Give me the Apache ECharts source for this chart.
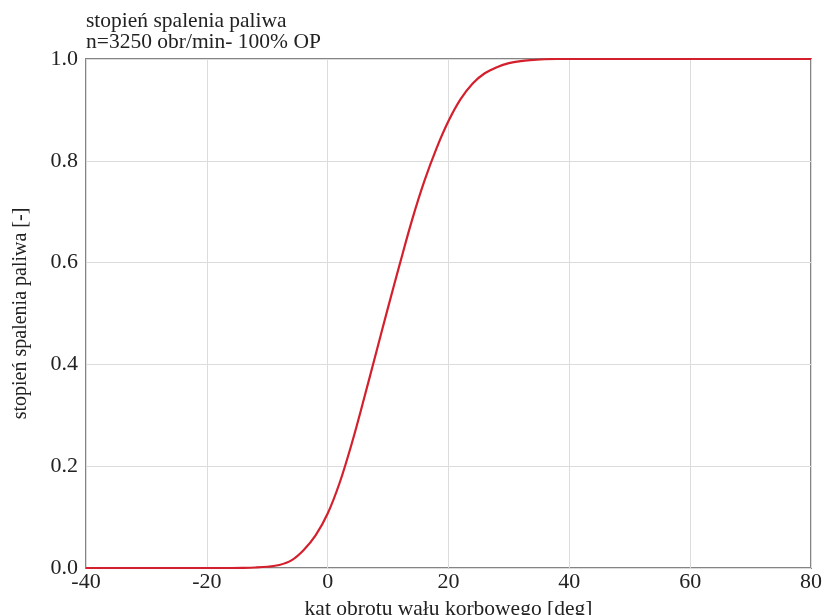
<!DOCTYPE html>
<html>
<head>
<meta charset="utf-8">
<script src="https://cdn.jsdelivr.net/npm/echarts@6/dist/echarts.min.js"></script>
<style>
  html, body { margin: 0; padding: 0; background: #fff; }
  #chart { width: 826px; height: 615px; }
</style>
</head>
<body>
<div id="chart"></div>
<script>
// Crank angle [deg] and burned fuel fraction [-]
const crankAngle = [-40, -30, -20, -16, -14, -12, -10, -8, -6, -4, -2, 0, 2, 4, 6, 8, 10, 12, 14, 16, 18, 20, 22, 24, 26, 28, 30, 32, 34, 36, 38, 40, 50, 60, 70, 80];
const burnedFraction = [0, 0, 0, 0, 0.0003, 0.001, 0.0025, 0.006, 0.015, 0.035, 0.064, 0.107, 0.168, 0.245, 0.332, 0.422, 0.512, 0.6, 0.685, 0.76, 0.824, 0.878, 0.921, 0.952, 0.972, 0.984, 0.992, 0.996, 0.998, 0.9995, 1.0, 1.0, 1.0, 1.0, 1.0, 1.0];

const xTicks = { min: -40, max: 80, interval: 20 };
const yTicks = { min: 0, max: 1, interval: 0.2 };

const titleLines = ['stopień spalenia paliwa', 'n=3250 obr/min- 100% OP'];
const xName = 'kąt obrotu wału korbowego [deg]';
const yName = 'stopień spalenia paliwa [-]';

const font = '"Liberation Serif", "DejaVu Serif", serif';
const chart = echarts.init(document.getElementById('chart'), null, { renderer: 'canvas' });

chart.setOption({
  animation: false,
  backgroundColor: '#ffffff',
  title: {
    text: titleLines.join('\n'),
    left: 81,
    top: 6,
    textStyle: { fontFamily: font, fontSize: 21.5, fontWeight: 'normal', color: '#222', lineHeight: 21 }
  },
  grid: {
    left: 86, right: 15, top: 59, bottom: 47,
    outerBoundsMode: 'none',
    containLabel: false,
    show: true, borderColor: '#848484', borderWidth: 2, backgroundColor: 'transparent'
  },
  xAxis: {
    type: 'value',
    min: xTicks.min, max: xTicks.max, interval: xTicks.interval,
    name: xName, nameLocation: 'middle', nameGap: 23,
    nameTextStyle: { fontFamily: font, fontSize: 21.5, color: '#222' },
    axisLine: { show: false },
    axisTick: { show: false },
    axisLabel: { fontFamily: font, fontSize: 22, color: '#222', margin: 3, formatter: v => String(v) },
    splitLine: { show: true, lineStyle: { color: '#dcdcdc', width: 1 } }
  },
  yAxis: {
    type: 'value',
    min: yTicks.min, max: yTicks.max, interval: yTicks.interval,
    name: yName, nameLocation: 'middle', nameGap: 55, nameRotate: 90,
    nameTextStyle: { fontFamily: font, fontSize: 20, color: '#222' },
    axisLine: { show: false },
    axisTick: { show: false },
    axisLabel: { fontFamily: font, fontSize: 22, color: '#222', margin: 8, formatter: v => v.toFixed(1) },
    splitLine: { show: true, lineStyle: { color: '#dcdcdc', width: 1 } }
  },
  series: [{
    type: 'line',
    data: crankAngle.map((x, i) => [x, burnedFraction[i]]),
    smooth: 0.35,
    showSymbol: false,
    lineStyle: { color: '#d4202c', width: 2.2 },
    z: 3
  }]
});
</script>
</body>
</html>
